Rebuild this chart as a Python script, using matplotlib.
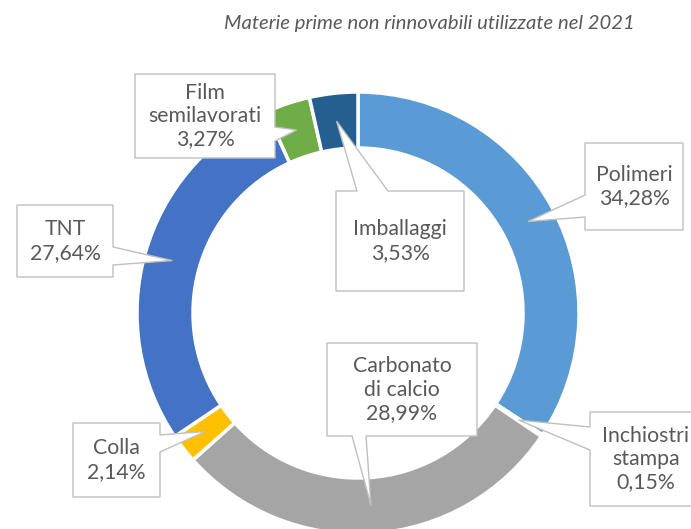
import matplotlib.pyplot as plt
import numpy as np
from matplotlib.patches import Polygon

W, H = 691, 529

# data
categories = ['Polimeri', 'Inchiostri\nstampa', 'Carbonato\ndi calcio', 'Colla',
              'TNT', 'Film\nsemilavorati', 'Imballaggi']
values = [34.28, 0.15, 28.99, 2.14, 27.64, 3.27, 3.53]
colors = ['#5B9BD5', '#ED7D31', '#A5A5A5', '#FFC000', '#4472C4', '#70AD47', '#255E91']
title = 'Materie prime non rinnovabili utilizzate nel 2021'

# callout layout (image pixel coords, y down): box, side of pointer, pointer base
callouts = [
    ((585, 143, 683, 230), 'left', (195, 217)),
    ((590, 412, 700, 506), 'left', (427, 450)),
    ((327, 343, 477, 436), 'bottom', (352, 366)),
    ((73, 423, 160, 497), 'right', (435, 452)),
    ((17, 205, 113, 277), 'right', (247, 265)),
    ((135, 74, 275, 158), 'right', (127, 141)),
    ((336, 191, 464, 291), 'top', (357, 388)),
]

cx, cy = 358, 313
r_out, ring = 221, 56
r_tip = r_out - ring / 2

TXT = '#595959'
FONT = 'Lato'

fig = plt.figure(figsize=(W / 100, H / 100), dpi=100)
ax = fig.add_axes([0, 0, 1, 1])

ax.pie(values, colors=colors, startangle=90, counterclock=False,
       radius=r_out, center=(cx, H - cy),
       wedgeprops=dict(width=ring, edgecolor='white', linewidth=2.5))
ax.set_xlim(0, W)
ax.set_ylim(0, H)
ax.set_aspect('equal')
ax.axis('off')


def callout(box, side, base, tip):
    x0, y0, x1, y1 = box
    a, b = base
    tx, ty = tip
    pts = [(x0, y0)]
    if side == 'top':
        pts += [(a, y0), (tx, ty), (b, y0)]
    pts += [(x1, y0)]
    if side == 'right':
        pts += [(x1, a), (tx, ty), (x1, b)]
    pts += [(x1, y1)]
    if side == 'bottom':
        pts += [(b, y1), (tx, ty), (a, y1)]
    pts += [(x0, y1)]
    if side == 'left':
        pts += [(x0, b), (tx, ty), (x0, a)]
    pts = [(x, H - y) for x, y in pts]
    ax.add_patch(Polygon(pts, closed=True, facecolor='white', edgecolor='#BFBFBF',
                         linewidth=1.0, zorder=5))


total = sum(values)
start = 0.0
for cat, val, (box, side, base) in zip(categories, values, callouts):
    mid = (start + val / 2) / total * 2 * np.pi
    start += val
    tip = (cx + r_tip * np.sin(mid), cy - r_tip * np.cos(mid))
    callout(box, side, base, tip)
    x0, y0, x1, y1 = box
    bx = (x0 + x1) / 2 if x1 <= W else 646
    label = cat + '\n' + f'{val:.2f}'.replace('.', ',') + '%'
    ax.text(bx, H - (y0 + y1) / 2, label, ha='center', va='center',
            multialignment='center', fontsize=15.3, color=TXT, family=FONT,
            linespacing=1.2, zorder=6)

fig.text(429 / W, 1 - 23 / H, title, ha='center', va='center', fontsize=14.6,
         style='italic', color=TXT, family=FONT)

fig.savefig('out.png', dpi=100)
